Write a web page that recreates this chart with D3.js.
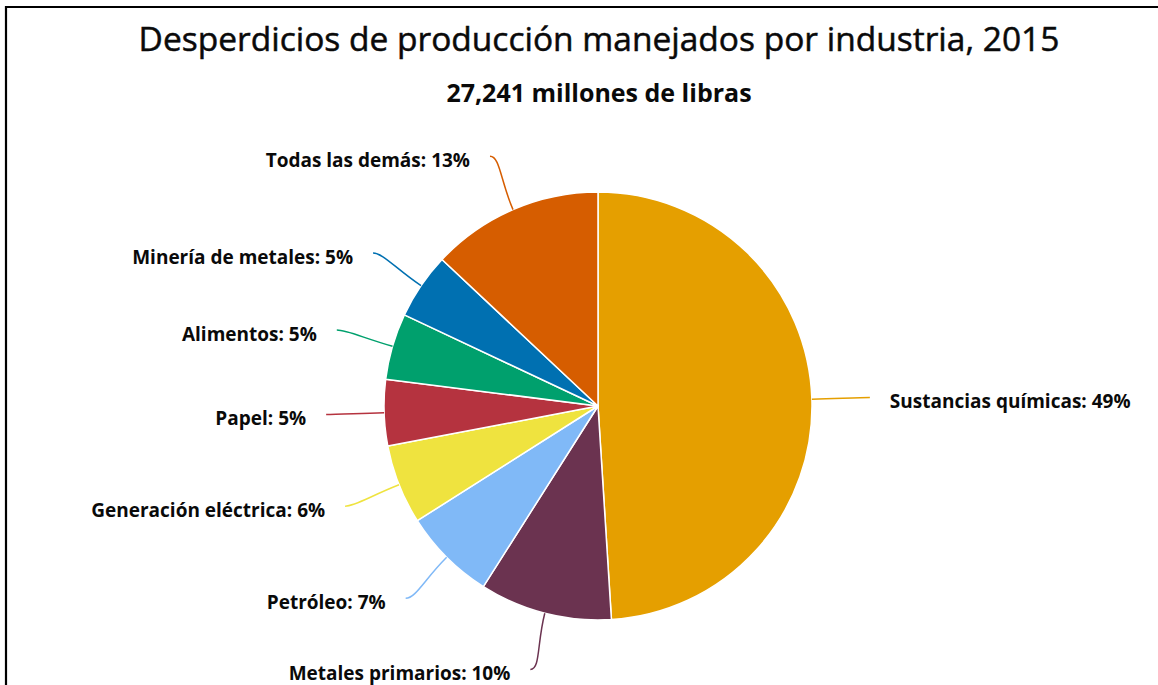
<!DOCTYPE html>
<html>
<head>
<meta charset="utf-8">
<script src="https://cdn.jsdelivr.net/npm/d3@7"></script>
<style>
  html, body { margin: 0; padding: 0; background: #fff; }
  svg { display: block; }
  text { font-family: "Open Sans", "Noto Sans", sans-serif; fill: #0a0a0a; }
</style>
</head>
<body>
<svg id="chart" width="1158" height="685"></svg>
<script>
// Industries and their share of managed production waste (percent)
const categories = [
  "Sustancias químicas",
  "Metales primarios",
  "Petróleo",
  "Generación eléctrica",
  "Papel",
  "Alimentos",
  "Minería de metales",
  "Todas las demás"
];
const shares = [49, 10, 7, 6, 5, 5, 5, 13];
const colors = ["#e59f00", "#6b3350", "#80b9f7", "#efe33f", "#b5333f", "#00a06d", "#0070b1", "#d65d00"];
const titleText = "Desperdicios de producción manejados por industria, 2015";
const subtitleText = "27,241 millones de libras";

const W = 1158, H = 685;
const cx = 598, cy = 406, r = 214;
const labelR = 272;   // where connectors meet the labels

const svg = d3.select("#chart");

// frame (top and left rules)
svg.append("path")
  .attr("d", `M6,${H + 2} L6,7 L${W + 2},7`)
  .attr("fill", "none")
  .attr("stroke", "#000")
  .attr("stroke-width", 2.2);

svg.append("text")
  .attr("x", 599).attr("y", 51)
  .attr("text-anchor", "middle")
  .style("font-size", "33.5px")
  .style("stroke", "#0a0a0a")
  .style("stroke-width", "0.5px")
  .text(titleText);

svg.append("text")
  .attr("x", 599).attr("y", 102)
  .attr("text-anchor", "middle")
  .style("font-size", "25px")
  .style("font-weight", "bold")
  .text(subtitleText);

const data = categories.map((c, i) => ({ name: c, value: shares[i], color: colors[i] }));

const pie = d3.pie().value(d => d.value).sort(null);
const arcs = pie(data);

const arc = d3.arc().innerRadius(0).outerRadius(r);

const g = svg.append("g").attr("transform", `translate(${cx},${cy})`);

g.selectAll("path.slice")
  .data(arcs)
  .join("path")
  .attr("class", "slice")
  .attr("d", arc)
  .attr("fill", d => d.data.color)
  .attr("stroke", "#fff")
  .attr("stroke-width", 1.5)
  .attr("stroke-linejoin", "round");

function polar(angle, radius) {
  return [Math.sin(angle) * radius, -Math.cos(angle) * radius];
}

// soft connectors from slice edge to label
arcs.forEach(d => {
  const mid = (d.startAngle + d.endAngle) / 2;
  const side = Math.sin(mid) >= 0 ? 1 : -1;
  const p0 = polar(mid, r);
  const p1 = polar(mid, r + (labelR - r) * 0.55);
  const p3 = polar(mid, labelR);
  const p2 = [p3[0] - side * 10, p3[1]];
  g.append("path")
    .attr("d", `M${p0[0]},${p0[1]} C${p1[0]},${p1[1]} ${p2[0]},${p2[1]} ${p3[0]},${p3[1]}`)
    .attr("fill", "none")
    .attr("stroke", d.data.color)
    .attr("stroke-width", 1.5);

  g.append("text")
    .attr("x", p3[0] + side * 20)
    .attr("y", p3[1] + 4)
    .attr("dy", "0.35em")
    .attr("text-anchor", side > 0 ? "start" : "end")
    .style("font-size", "19px")
    .style("font-weight", "bold")
    .text(`${d.data.name}: ${d.data.value}%`);
});
</script>
</body>
</html>
